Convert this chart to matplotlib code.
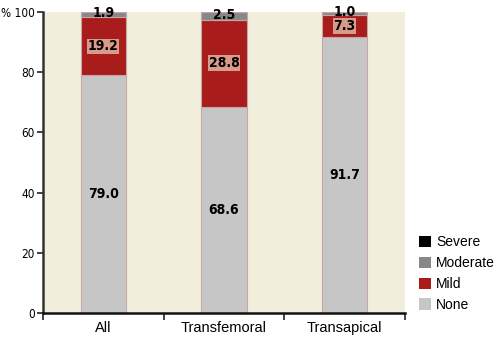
import matplotlib
matplotlib.use("Agg")
import matplotlib.pyplot as plt
from matplotlib.patches import Patch
from matplotlib import font_manager as fm
import numpy as np

categories = ["All", "Transfemoral", "Transapical"]
none_vals = [79.0, 68.6, 91.7]
mild_vals = [19.2, 28.8, 7.3]
moderate_vals = [1.9, 2.5, 1.0]
severe_vals = [0.0, 0.0, 0.0]
yticks = [0, 20, 40, 60, 80, 100]
ytick_labels = ["0", "20", "40", "60", "80", "% 100"]


def find_condensed(bold):
    cands = []
    for f in fm.fontManager.ttflist:
        name = f.name.lower()
        fn = f.fname.lower()
        is_cond = ("narrow" in name or "condensed" in name or "narrow" in fn or "condensed" in fn
                   or str(f.stretch).lower() in ("condensed", "semi-condensed", "extra-condensed"))
        if not is_cond:
            continue
        w = f.weight if isinstance(f.weight, int) else (700 if "bold" in str(f.weight) else 400)
        if ("italic" in fn or "oblique" in fn or f.style != "normal"):
            continue
        score = abs(w - (700 if bold else 400))
        pri = 0 if "liberation" in fn else (1 if "dejavu" in fn else 2)
        cands.append((pri, score, f.fname))
    if cands:
        cands.sort()
        return fm.FontProperties(fname=cands[0][2])
    return None

cond_bold = find_condensed(True)
cond_reg = find_condensed(False)

fig = plt.figure(figsize=(5.02, 3.37), dpi=100)
ax = fig.add_axes([43/502, 1-313/337, (405-43)/502, (313-12)/337])
ax.set_facecolor("#F2EEDC")

x = np.arange(len(categories))
w = 0.375
edge = "#C8A4A4"
colors = {"None": "#C6C6C6", "Mild": "#A81C1C", "Moderate": "#888888", "Severe": "#000000"}

b0 = np.zeros(3)
ax.bar(x, none_vals, w, bottom=b0, color=colors["None"], edgecolor=edge, linewidth=0.8, zorder=2)
b1 = b0 + np.array(none_vals)
ax.bar(x, mild_vals, w, bottom=b1, color=colors["Mild"], edgecolor=edge, linewidth=0.8, zorder=2)
b2 = b1 + np.array(mild_vals)
ax.bar(x, moderate_vals, w, bottom=b2, color=colors["Moderate"], edgecolor=edge, linewidth=0.8, zorder=2)
b3 = b2 + np.array(moderate_vals)
ax.bar(x, severe_vals, w, bottom=b3, color=colors["Severe"], edgecolor=edge, linewidth=0.8, zorder=2)


def lab_props(size):
    if cond_bold is not None:
        p = cond_bold.copy()
        p.set_size(size)
        return p
    return fm.FontProperties(family="DejaVu Sans", weight="bold", size=size - 2.5)

def tick_props(size):
    if cond_reg is not None:
        p = cond_reg.copy()
        p.set_size(size)
        return p
    return fm.FontProperties(family="Liberation Sans", size=size - 1)

lp = lab_props(10)
for i in range(3):
    ax.text(x[i], b0[i] + none_vals[i]/2, f"{none_vals[i]:.1f}", ha="center", va="center",
            fontproperties=lp, zorder=5)
    ax.text(x[i], b1[i] + mild_vals[i]/2, f"{mild_vals[i]:.1f}", ha="center", va="center",
            fontproperties=lp, zorder=5,
            bbox=dict(boxstyle="square,pad=0.05", fc="#D89A8A", ec="none"))
    ax.text(x[i], b2[i] + moderate_vals[i]/2 + 0.5, f"{moderate_vals[i]:.1f}", ha="center", va="center",
            fontproperties=lp, zorder=5)

ax.set_xlim(-0.5, 2.5)
ax.set_ylim(0, 100)
ax.set_yticks(yticks)
ax.set_yticklabels(ytick_labels, fontproperties=tick_props(8.5))
ax.set_xticks([-0.5, 0.5, 1.5, 2.5])
ax.set_xticklabels([])
ax.set_xticks(x, minor=True)
ax.set_xticklabels(categories, minor=True, fontsize=10.5, family="Liberation Sans")
ax.tick_params(axis="x", which="minor", length=0, pad=6)
ax.tick_params(axis="x", which="major", length=5, width=1.2, direction="out", color="#222222")
ax.tick_params(axis="y", length=4, width=1.2, direction="out", color="#222222", pad=2)

for s in ["top", "right"]:
    ax.spines[s].set_visible(False)
ax.spines["left"].set_linewidth(1.8)
ax.spines["left"].set_color("#333333")
ax.spines["bottom"].set_linewidth(1.8)
ax.spines["bottom"].set_color("#111111")

handles = [Patch(facecolor=colors[k], edgecolor="none", label=k) for k in ["Severe", "Moderate", "Mild", "None"]]
fig.legend(handles=handles, loc="upper left", bbox_to_anchor=(419/502, 1-235/337), frameon=False,
           prop={"family": "Liberation Sans", "size": 10},
           handlelength=0.85, handleheight=0.85, handletextpad=0.4, labelspacing=0.5,
           borderpad=0, borderaxespad=0)

fig.savefig("out.png", dpi=100, facecolor="white")
